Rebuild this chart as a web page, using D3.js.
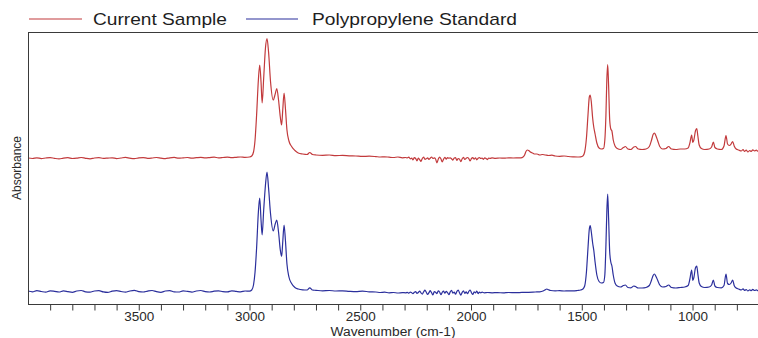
<!DOCTYPE html>
<html>
<head>
<meta charset="utf-8">
<script src="https://cdn.jsdelivr.net/npm/d3@7"></script>
<style>
  html, body { margin: 0; padding: 0; background: #fff; }
  svg { display: block; font-family: "Liberation Sans", Arial, sans-serif; }
</style>
</head>
<body>
<svg id="chart" width="758" height="338"></svg>
<script>
// FTIR spectra: [wavenumber (cm-1), absorbance] pairs, stacked for display
const seriesNames = ["Current Sample", "Polypropylene Standard"];
const seriesColors = ["#c23a3c", "#2b2f9c"];

const sampleSpectrum = [
  [4000,1.460],[3980,1.455],[3960,1.462],[3940,1.454],[3920,1.460],[3900,1.464],[3880,1.456],[3860,1.451],[3840,1.459],[3820,1.463],
  [3800,1.455],[3780,1.458],[3760,1.465],[3740,1.457],[3720,1.452],[3700,1.460],[3680,1.464],[3660,1.456],[3640,1.459],[3620,1.462],
  [3600,1.454],[3580,1.460],[3560,1.466],[3540,1.458],[3520,1.453],[3500,1.461],[3480,1.464],[3460,1.457],[3440,1.460],[3420,1.465],
  [3400,1.459],[3380,1.454],[3360,1.462],[3340,1.466],[3320,1.458],[3300,1.461],[3280,1.465],[3260,1.459],[3240,1.463],[3220,1.467],
  [3200,1.461],[3180,1.464],[3160,1.468],[3140,1.462],[3120,1.465],[3100,1.469],[3080,1.464],[3060,1.467],[3040,1.470],[3020,1.466],
  [3000,1.470],[2990,1.480],[2982,1.520],[2975,1.640],[2968,1.890],[2960,2.240],[2954,2.390],[2948,2.220],[2943,2.010],[2936,2.260],
  [2928,2.560],[2921,2.655],[2914,2.520],[2905,2.220],[2893,2.040],[2884,2.100],[2877,2.155],[2869,2.040],[2861,1.870],[2855,1.790],
  [2850,1.940],[2844,2.110],[2838,1.960],[2831,1.740],[2822,1.630],[2810,1.575],[2795,1.535],[2780,1.510],[2760,1.500],[2740,1.495],
  [2728,1.515],[2716,1.495],[2700,1.490],[2670,1.487],[2640,1.490],[2610,1.484],[2580,1.486],[2550,1.482],[2520,1.480],[2490,1.476],
  [2460,1.478],[2430,1.474],[2410,1.470],[2390,1.472],[2370,1.468],[2350,1.465],[2330,1.470],[2310,1.462],
  [2295,1.465],[2288,1.461],[2281,1.468],[2274,1.452],[2268,1.459],[2262,1.441],[2256,1.463],[2250,1.455],[2244,1.432],[2238,1.458],
  [2232,1.444],[2226,1.427],[2220,1.455],[2214,1.468],[2208,1.447],[2202,1.452],[2196,1.462],[2190,1.446],[2184,1.458],[2178,1.470],
  [2172,1.455],[2166,1.461],[2160,1.450],[2154,1.412],[2148,1.448],[2142,1.469],[2136,1.452],[2130,1.421],[2124,1.449],[2118,1.466],
  [2112,1.449],[2106,1.464],[2100,1.458],[2094,1.461],[2088,1.452],[2082,1.438],[2076,1.460],[2070,1.463],[2064,1.436],[2058,1.455],
  [2052,1.448],[2046,1.424],[2040,1.452],[2034,1.466],[2028,1.446],[2022,1.457],[2016,1.465],[2010,1.454],[2004,1.431],[1998,1.455],
  [1992,1.464],[1986,1.449],[1980,1.461],[1974,1.442],[1968,1.458],[1962,1.465],[1956,1.455],[1950,1.460],[1944,1.447],[1938,1.462],
  [1932,1.456],[1926,1.444],[1920,1.460],[1914,1.456],[1905,1.462],[1890,1.457],[1870,1.460],[1850,1.458],[1830,1.462],[1810,1.460],
  [1790,1.461],[1775,1.462],[1765,1.470],[1758,1.490],[1752,1.525],[1746,1.540],[1740,1.535],[1732,1.520],[1722,1.510],[1712,1.500],
  [1702,1.500],[1690,1.490],[1678,1.495],[1665,1.490],[1650,1.485],[1635,1.488],[1620,1.480],[1600,1.477],[1580,1.480],[1560,1.475],
  [1540,1.472],[1520,1.470],[1505,1.472],[1495,1.480],[1487,1.520],[1479,1.660],[1472,1.890],[1466,2.070],[1462,2.090],[1457,2.020],
  [1451,1.860],[1446,1.770],[1440,1.700],[1432,1.610],[1422,1.560],[1412,1.550],[1402,1.555],[1396,1.640],[1391,1.890],[1387,2.240],
  [1383,2.395],[1379,2.190],[1374,1.840],[1369,1.750],[1364,1.730],[1358,1.640],[1350,1.580],[1340,1.555],[1325,1.545],[1312,1.565],
  [1303,1.575],[1292,1.550],[1278,1.545],[1265,1.570],[1258,1.575],[1245,1.550],[1228,1.545],[1210,1.550],[1195,1.575],[1185,1.640],
  [1178,1.695],[1172,1.710],[1165,1.680],[1157,1.630],[1148,1.575],[1135,1.550],[1120,1.555],[1108,1.575],[1095,1.550],[1075,1.545],
  [1055,1.550],[1035,1.550],[1020,1.560],[1012,1.610],[1004,1.690],[999,1.615],[994,1.640],[987,1.730],[981,1.755],[976,1.680],
  [970,1.590],[960,1.555],[945,1.545],[925,1.550],[914,1.570],[906,1.620],[899,1.565],[888,1.550],[870,1.545],[858,1.580],
  [849,1.685],[842,1.600],[834,1.585],[826,1.600],[819,1.625],[812,1.580],[803,1.550],[792,1.540],[780,1.530],[772,1.545],
  [765,1.525],[758,1.540],[750,1.520],[742,1.535],[735,1.525],[728,1.542],[720,1.530],[712,1.538],[705,1.528],[700,1.535]
];

const standardSpectrum = [
  [4000,0.130],[3980,0.122],[3960,0.134],[3940,0.125],[3920,0.118],[3900,0.132],[3880,0.127],[3860,0.120],[3840,0.131],[3820,0.124],
  [3800,0.117],[3780,0.130],[3760,0.135],[3740,0.122],[3720,0.119],[3700,0.130],[3680,0.133],[3660,0.121],[3640,0.116],[3620,0.128],
  [3600,0.134],[3580,0.125],[3560,0.118],[3540,0.130],[3520,0.136],[3500,0.124],[3480,0.120],[3460,0.129],[3440,0.135],[3420,0.123],
  [3400,0.117],[3380,0.130],[3360,0.134],[3340,0.122],[3320,0.120],[3300,0.131],[3280,0.126],[3260,0.119],[3240,0.130],[3220,0.135],
  [3200,0.124],[3180,0.120],[3160,0.128],[3140,0.132],[3120,0.123],[3100,0.121],[3080,0.131],[3060,0.126],[3040,0.122],[3020,0.130],
  [3000,0.128],[2990,0.140],[2982,0.190],[2975,0.320],[2968,0.560],[2960,0.920],[2954,1.060],[2948,0.840],[2943,0.690],[2936,0.940],
  [2928,1.190],[2921,1.320],[2914,1.160],[2905,0.900],[2893,0.730],[2884,0.800],[2877,0.840],[2869,0.720],[2861,0.540],[2855,0.475],
  [2850,0.620],[2844,0.790],[2838,0.640],[2831,0.400],[2822,0.270],[2810,0.205],[2795,0.165],[2780,0.150],[2760,0.142],[2740,0.140],
  [2728,0.162],[2716,0.140],[2700,0.137],[2670,0.132],[2640,0.135],[2610,0.130],[2580,0.132],[2550,0.127],[2520,0.124],[2490,0.128],
  [2460,0.122],[2430,0.120],[2410,0.115],[2390,0.118],[2370,0.112],[2350,0.115],[2330,0.110],[2310,0.114],
  [2295,0.112],[2288,0.116],[2281,0.108],[2274,0.119],[2268,0.113],[2262,0.104],[2256,0.117],[2250,0.124],[2244,0.106],[2238,0.115],
  [2232,0.129],[2226,0.112],[2220,0.099],[2214,0.121],[2208,0.138],[2202,0.118],[2196,0.095],[2190,0.113],[2184,0.133],[2178,0.112],
  [2172,0.091],[2166,0.124],[2160,0.117],[2154,0.103],[2148,0.131],[2142,0.120],[2136,0.094],[2130,0.116],[2124,0.128],[2118,0.108],
  [2112,0.126],[2106,0.113],[2100,0.093],[2094,0.121],[2088,0.136],[2082,0.109],[2076,0.118],[2070,0.098],[2064,0.125],[2058,0.139],
  [2052,0.113],[2046,0.089],[2040,0.116],[2034,0.131],[2028,0.106],[2022,0.122],[2016,0.104],[2010,0.126],[2004,0.140],[1998,0.113],
  [1992,0.095],[1986,0.121],[1980,0.112],[1974,0.130],[1968,0.104],[1962,0.118],[1956,0.111],[1950,0.118],[1940,0.112],[1925,0.115],
  [1905,0.112],[1880,0.114],[1855,0.111],[1830,0.115],[1800,0.113],[1770,0.116],[1740,0.117],[1710,0.120],[1690,0.122],[1675,0.130],
  [1665,0.142],[1658,0.150],[1650,0.142],[1640,0.135],[1620,0.132],[1600,0.133],[1580,0.130],[1560,0.132],[1540,0.131],[1520,0.135],
  [1505,0.140],[1495,0.150],[1487,0.180],[1479,0.320],[1472,0.560],[1466,0.750],[1462,0.785],[1457,0.720],[1451,0.610],[1446,0.540],
  [1440,0.420],[1432,0.290],[1422,0.225],[1412,0.210],[1402,0.215],[1396,0.290],[1391,0.590],[1387,0.920],[1383,1.100],[1379,0.860],
  [1374,0.520],[1369,0.420],[1364,0.380],[1358,0.290],[1350,0.210],[1340,0.180],[1325,0.170],[1312,0.185],[1303,0.190],[1292,0.165],
  [1278,0.162],[1265,0.180],[1258,0.175],[1245,0.160],[1228,0.160],[1210,0.165],[1195,0.185],[1185,0.240],[1178,0.285],[1172,0.300],
  [1165,0.275],[1157,0.235],[1148,0.190],[1135,0.170],[1120,0.175],[1108,0.190],[1095,0.165],[1075,0.160],[1055,0.165],[1035,0.170],
  [1020,0.185],[1012,0.250],[1004,0.340],[999,0.235],[994,0.265],[987,0.360],[981,0.380],[976,0.300],[970,0.210],[960,0.175],
  [945,0.165],[925,0.170],[914,0.190],[906,0.240],[899,0.180],[888,0.165],[870,0.162],[858,0.185],[849,0.300],[842,0.205],
  [834,0.195],[826,0.210],[819,0.240],[812,0.185],[803,0.160],[792,0.150],[780,0.140],[772,0.152],[765,0.135],[758,0.145],
  [750,0.130],[742,0.142],[735,0.134],[728,0.146],[720,0.135],[712,0.142],[705,0.134],[700,0.140]
];

// Axis ticks: minor every 100 cm-1, labelled every 500 cm-1
const xTickValues = [3900,3800,3700,3600,3500,3400,3300,3200,3100,3000,2900,2800,2700,2600,2500,2400,2300,2200,2100,2000,
                     1900,1800,1700,1600,1500,1400,1300,1200,1100,1000,900,800];
const xLabelValues = [3500, 3000, 2500, 2000, 1500, 1000];
const xDomain = [4000, 700];
const yDomain = [0, 2.72];

const svg = d3.select("#chart");
const plot = { left: 28, top: 32, right: 759, bottom: 304 };

const x = d3.scaleLinear().domain(xDomain).range([plot.left, plot.right]);
const y = d3.scaleLinear().domain(yDomain).range([plot.bottom, plot.top]);

svg.append("clipPath").attr("id", "plot-clip")
  .append("rect")
  .attr("x", plot.left).attr("y", plot.top)
  .attr("width", plot.right - plot.left).attr("height", plot.bottom - plot.top);

const line = d3.line()
  .x(d => x(d[0]))
  .y(d => y(d[1]))
  .curve(d3.curveMonotoneX);

const spectra = [sampleSpectrum, standardSpectrum];
svg.append("g").attr("clip-path", "url(#plot-clip)")
  .selectAll("path")
  .data(spectra)
  .join("path")
  .attr("d", d => line(d))
  .attr("fill", "none")
  .attr("stroke", (d, i) => seriesColors[i])
  .attr("stroke-width", 1.2)
  .attr("stroke-linejoin", "round");

// Plot frame
svg.append("rect")
  .attr("x", plot.left + 0.5).attr("y", plot.top + 0.5)
  .attr("width", plot.right - plot.left).attr("height", plot.bottom - plot.top)
  .attr("fill", "none")
  .attr("stroke", "#3a3a3a")
  .attr("stroke-width", 1);

// Bottom axis
const xAxis = d3.axisBottom(x)
  .tickValues(xTickValues)
  .tickSize(6)
  .tickSizeOuter(0)
  .tickPadding(2)
  .tickFormat(v => xLabelValues.includes(v) ? String(v) : "");

const gx = svg.append("g")
  .attr("transform", `translate(0,${plot.bottom + 0.5})`)
  .call(xAxis);
gx.select(".domain").remove();
gx.selectAll(".tick line").attr("stroke", "#3a3a3a");
gx.selectAll(".tick text")
  .attr("fill", "#2a2a2a")
  .style("font-family", "'Liberation Sans', Arial, sans-serif")
  .style("font-size", "12px")
  .each(function () {
    const t = d3.select(this);
    if (t.text()) t.attr("textLength", 30).attr("lengthAdjust", "spacingAndGlyphs");
  });

// Axis titles
svg.append("text")
  .attr("x", 393).attr("y", 336)
  .attr("text-anchor", "middle")
  .attr("fill", "#2a2a2a")
  .style("font-size", "12px")
  .attr("textLength", 125).attr("lengthAdjust", "spacingAndGlyphs")
  .text("Wavenumber (cm-1)");

svg.append("text")
  .attr("transform", "translate(21,168) rotate(-90)")
  .attr("text-anchor", "middle")
  .attr("fill", "#2a2a2a")
  .style("font-size", "12px")
  .text("Absorbance");

// Legend
const legendItems = [
  { x0: 29, x1: 82, tx: 93, tw: 134 },
  { x0: 246, x1: 298, tx: 312, tw: 205 }
];
const legend = svg.append("g");
legend.selectAll("line")
  .data(legendItems)
  .join("line")
  .attr("x1", d => d.x0).attr("x2", d => d.x1)
  .attr("y1", 19).attr("y2", 19)
  .attr("stroke", (d, i) => seriesColors[i])
  .attr("stroke-width", 1.2);
legend.selectAll("text")
  .data(legendItems)
  .join("text")
  .attr("x", d => d.tx).attr("y", 25)
  .attr("fill", "#1e1e1e")
  .style("font-size", "17px")
  .attr("textLength", d => d.tw).attr("lengthAdjust", "spacingAndGlyphs")
  .text((d, i) => seriesNames[i]);
</script>
</body>
</html>
